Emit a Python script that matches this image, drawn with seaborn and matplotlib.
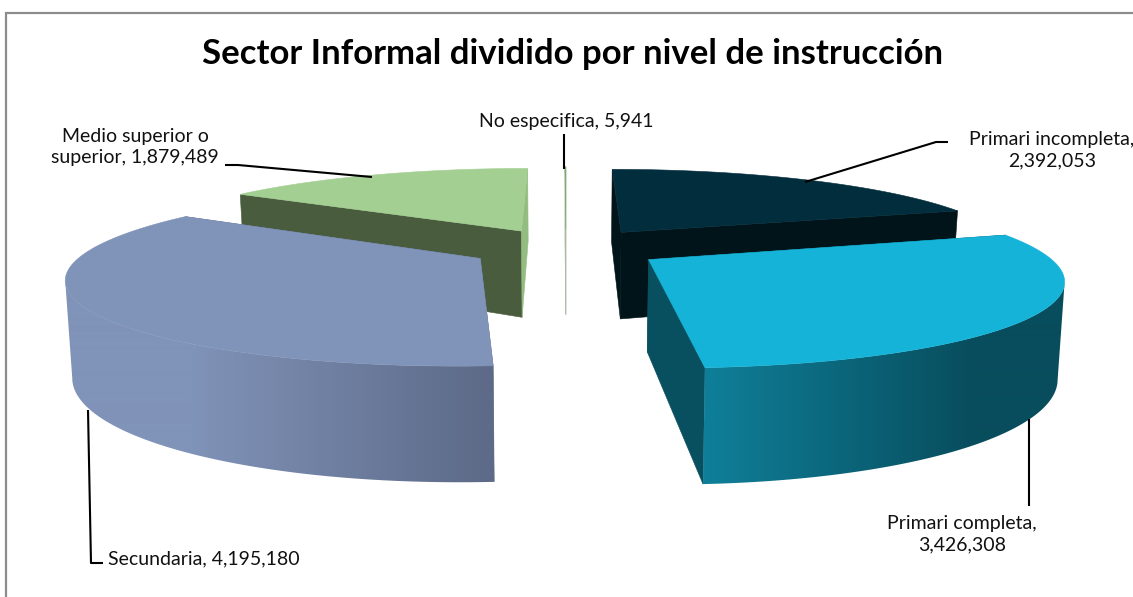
import numpy as np
import matplotlib
matplotlib.use("Agg")
import matplotlib.pyplot as plt
from matplotlib.colors import LinearSegmentedColormap
from matplotlib.patches import Polygon
import seaborn as sns

categories = ["Primari incompleta", "Primari completa", "Secundaria",
              "Medio superior o superior", "No especifica"]
values = [2392053, 3426308, 4195180, 1879489, 5941]
title = "Sector Informal dividido por nivel de instrucción"
label_text = ["Primari incompleta,\n2,392,053", "Primari completa,\n3,426,308",
              "Secundaria, 4,195,180", "Medio superior o\nsuperior, 1,879,489",
              "No especifica, 5,941"]
label_pos = [(1052, 150), (962, 534), (203.5, 559), (135, 147), (566, 122)]
leaders = [[(948, 142), (936, 142), (805, 182)],
           [(1029, 506), (1029, 419)],
           [(103, 563), (91, 563), (88, 410)],
           [(225, 165), (238, 165), (372, 177)],
           [(564, 134), (564, 169)]]
top_col = ["#022d3c", "#14b3d7", "#8093b8", "#a3cf92", "#7fa86a"]
wall_start = ["#00141a", "#08505f", "#5d6a88", "#4a5c3e", "#a9b9a2"]
wall_end = ["#00141a", "#08505f", "#5d6a88", "#93bd80", "#a9b9a2"]
grad_pairs = {1: ("#0f7f99", "#084d5d", 706, 975), 2: ("#5d6a88", "#8093b8", 490, 190)}

sns.set_theme(style="white")
plt.rcParams['font.family'] = ['Lato', 'DejaVu Sans']

CX, CY, RX, RY, K, E, H, SHRINK = 566, 248, 392, 81.3, 0.20, 0.2475, 90, 0.986


def project(px, py, bottom=False):
    w = 1 + K * py
    x = RX * px / w
    y = CY - RY * py / w
    if bottom:
        return CX + x * SHRINK, y + H / w
    return CX + x, y


fig = plt.figure(figsize=(11.33, 5.97), dpi=100)
ax = fig.add_axes([0, 0, 1, 1])
ax.axis("off")

angles = np.concatenate([[0], np.cumsum(values) / np.sum(values) * 360])
order = [4, 3, 0, 2, 1]

for rank, i in enumerate(order):
    t0, t1 = np.radians(angles[i]), np.radians(angles[i + 1])
    m = (t0 + t1) / 2
    ox, oy = E * np.sin(m), E * np.cos(m)
    ts = np.linspace(t0, t1, 240)
    ppx, ppy = ox + np.sin(ts), oy + np.cos(ts)
    top = np.column_stack(project(ppx, ppy))
    bot = np.column_stack(project(ppx, ppy, True))
    apex_t = np.array(project(ox, oy))
    apex_b = np.array(project(ox, oy, True))

    z = 1 + rank * 3
    ax.add_patch(Polygon([apex_t, top[0], bot[0], apex_b], closed=True,
                         fc=wall_start[i], ec=wall_start[i], lw=0.4, zorder=z))
    ax.add_patch(Polygon([apex_t, top[-1], bot[-1], apex_b], closed=True,
                         fc=wall_end[i], ec=wall_end[i], lw=0.4, zorder=z))

    if i in grad_pairs:
        a, b, xa, xb = grad_pairs[i]
        if top[:, 0].mean() > CX:
            s = int(np.argmax(top[:, 0]))
            outer = np.vstack([top[s:], bot[s:][::-1]])
        else:
            s = int(np.argmin(top[:, 0]))
            outer = np.vstack([top[:s + 1], bot[:s + 1][::-1]])
        cmap = LinearSegmentedColormap.from_list("wall", sns.blend_palette([a, b], n_colors=16))
        xs = np.linspace(0, 1133, 1133)
        grad = np.clip((xs - xa) / (xb - xa), 0, 1)[None, :]
        im = ax.imshow(grad, cmap=cmap, vmin=0, vmax=1, extent=(0, 1133, 597, 0),
                       aspect="auto", zorder=z + 1, interpolation="bilinear")
        im.set_clip_path(Polygon(outer, closed=True, transform=ax.transData))

    ax.add_patch(Polygon(np.vstack([[apex_t], top]), closed=True,
                         fc=top_col[i], ec=top_col[i], lw=0.4, zorder=z + 2))

ax.set_xlim(0, 1133)
ax.set_ylim(597, 0)

for pts in leaders:
    xs, ys = zip(*pts)
    ax.plot(xs, ys, color="black", lw=1.5, solid_capstyle="butt", zorder=30)

for txt, (x, y) in zip(label_text, label_pos):
    ax.text(x, y, txt, ha="center", va="center", fontsize=14, color="#111111",
            linespacing=1.3, zorder=31, clip_on=False)

ax.text(573, 54, title, ha="center", va="center", fontsize=25, fontweight="bold", color="black")

ax.plot([6, 6, 1133], [597, 12.5, 12.5], color="#8c8c8c", lw=1.6, zorder=0, solid_joinstyle="miter")

fig.savefig("out.png", dpi=100, facecolor="white")
